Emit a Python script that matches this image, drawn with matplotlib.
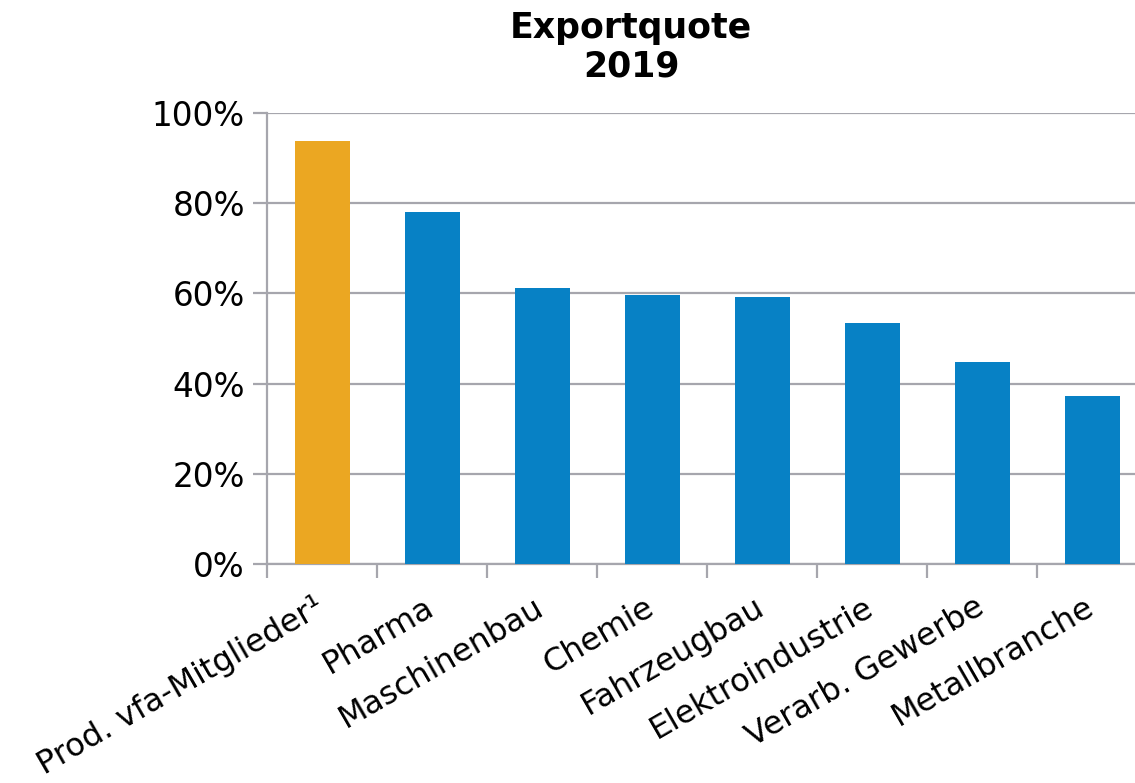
import matplotlib
matplotlib.use('Agg')
import matplotlib.pyplot as plt
import matplotlib.transforms as mtransforms
import numpy as np
from matplotlib.ticker import FuncFormatter

plt.rcParams['font.family'] = ['DejaVu Sans']

# Exportquote 2019 by sector (share of revenue, %)
categories = ['Prod. vfa-Mitglieder\u00b9', 'Pharma', 'Maschinenbau', 'Chemie',
              'Fahrzeugbau', 'Elektroindustrie', 'Verarb. Gewerbe', 'Metallbranche']
quote = [93.8, 78.0, 61.2, 59.7, 59.2, 53.4, 44.8, 37.3]
bar_colors = ['#EBA722'] + ['#0781C5'] * 7

grid_col = '#A6A6AD'

fig = plt.figure(figsize=(11.35, 7.83), dpi=100)
ax = fig.add_axes([267 / 1135, 1 - 564 / 783, 880 / 1135, 451 / 783])

x = np.arange(len(categories))
ax.bar(x, quote, width=0.5, color=bar_colors, zorder=3)

ax.set_ylim(0, 100)
ax.set_xlim(-0.5, len(categories) - 0.5)
ax.set_yticks(np.arange(0, 101, 20))
ax.yaxis.set_major_formatter(FuncFormatter(lambda v, p: f'{v:.0f}%'))
ax.yaxis.grid(True, color=grid_col, linewidth=1.6, zorder=0)
ax.tick_params(axis='y', length=10, width=1.6, color=grid_col, labelsize=23.5, pad=6)

ax.set_xticks(x)
ax.set_xticklabels(categories, rotation=30, ha='right', va='top',
                   rotation_mode='anchor', fontsize=23)
ax.set_xticks(np.arange(-0.5, len(categories), 1), minor=True)
ax.tick_params(axis='x', which='major', length=0, pad=20)
ax.tick_params(axis='x', which='minor', length=10, width=1.6, color=grid_col)

# nudge rotated labels slightly to the left
shift = mtransforms.ScaledTranslation(-8 / 100, 0, fig.dpi_scale_trans)
for lbl in ax.get_xticklabels():
    lbl.set_transform(lbl.get_transform() + shift)

for side in ['top', 'right']:
    ax.spines[side].set_visible(False)
for side in ['left', 'bottom']:
    ax.spines[side].set_color(grid_col)
    ax.spines[side].set_linewidth(1.6)

fig.text(631 / 1135, 1 - 47 / 783, 'Exportquote\n2019', ha='center', va='center',
         fontsize=25, fontweight='bold', linespacing=1.15)

fig.savefig('out.png', dpi=100)
